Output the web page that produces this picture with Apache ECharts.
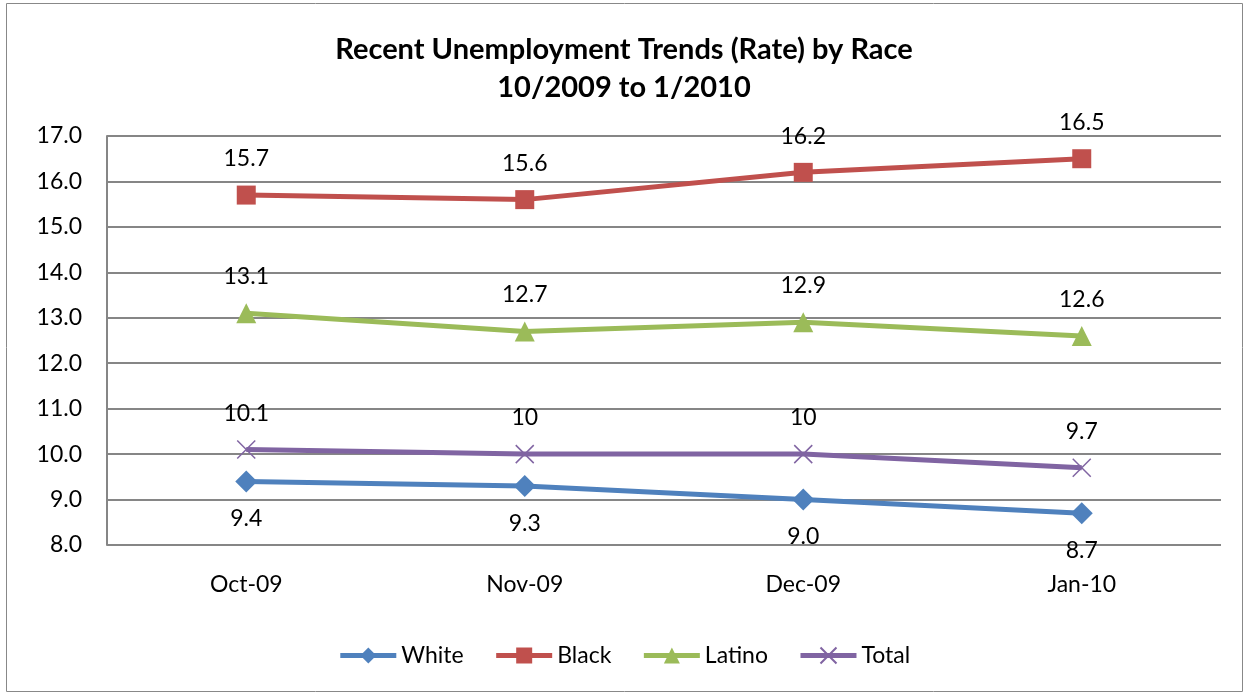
<!DOCTYPE html>
<html><head><meta charset="utf-8">
<script src="https://cdn.jsdelivr.net/npm/echarts@6/dist/echarts.min.js"></script>
<style>html,body{margin:0;padding:0;background:#fff}#c{width:1248px;height:694px}</style>
</head><body><div id="c"></div>
<script>
var categories = ['Oct-09', 'Nov-09', 'Dec-09', 'Jan-10'];
var white = [9.4, 9.3, 9.0, 8.7];
var black = [15.7, 15.6, 16.2, 16.5];
var latino = [13.1, 12.7, 12.9, 12.6];
var total = [10.1, 10, 10, 9.7];
var titleLines = ['Recent Unemployment Trends (Rate) by Race', '10/2009 to 1/2010'];

var FONT = 'Lato';
var FS = 23;
var chart = echarts.init(document.getElementById('c'));
function lbl(pos, fmt) {
  return { show: true, position: pos, distance: 15, color: '#000', fontFamily: FONT, fontSize: FS, formatter: fmt };
}
var crossPath = 'path://M0,0L10,10M10,0L0,10';
chart.setOption({
  animation: false,
  title: {
    text: titleLines.join('\n'), left: 'center', top: 26,
    textStyle: { fontFamily: FONT, fontWeight: 'bold', fontSize: 29, color: '#000', lineHeight: 38 }
  },
  graphic: [{ type: 'rect', shape: { x: 6.5, y: 3.5, width: 1236, height: 688 }, style: { fill: 'none', stroke: '#888', lineWidth: 1 }, silent: true }],
  legend: {
    bottom: 22, left: 'center', itemWidth: 56, itemHeight: 20, itemGap: 30,
    textStyle: { fontFamily: FONT, fontSize: FS, color: '#000' },
    lineStyle: { width: 5 },
    data: ['White', 'Black', 'Latino', 'Total']
  },
  grid: { left: 107, right: 27, top: 136, bottom: 149, containLabel: false },
  xAxis: {
    type: 'category', data: categories, boundaryGap: true,
    axisLine: { show: false }, axisTick: { show: false },
    axisLabel: { margin: 28, fontFamily: FONT, fontSize: FS, color: '#000' }
  },
  yAxis: {
    type: 'value', min: 8, max: 17, interval: 1,
    axisLine: { show: true, lineStyle: { color: '#868686', width: 2 } }, axisTick: { show: false },
    splitLine: { lineStyle: { color: '#868686', width: 2 } },
    axisLabel: { margin: 25, fontFamily: FONT, fontSize: FS, color: '#000', formatter: function (v) { return v.toFixed(1); } }
  },
  series: [
    { name: 'White', type: 'line', data: white, symbol: 'diamond', symbolSize: 22,
      lineStyle: { color: '#4F81BD', width: 5 }, itemStyle: { color: '#4F81BD' },
      label: lbl('bottom', function (p) { return p.value.toFixed(1); }) },
    { name: 'Black', type: 'line', data: black, symbol: 'rect', symbolSize: 19,
      lineStyle: { color: '#C0504D', width: 5 }, itemStyle: { color: '#C0504D' },
      label: lbl('top', function (p) { return String(p.value); }) },
    { name: 'Latino', type: 'line', data: latino, symbol: 'triangle', symbolSize: 20,
      lineStyle: { color: '#9BBB59', width: 5 }, itemStyle: { color: '#9BBB59' },
      label: lbl('top', function (p) { return String(p.value); }) },
    { name: 'Total', type: 'line', data: total, symbol: crossPath, symbolSize: 18,
      lineStyle: { color: '#8064A2', width: 5 }, itemStyle: { color: '#8064A2', borderColor: '#8064A2', borderWidth: 1.5 },
      label: lbl('top', function (p) { return String(p.value); }) }
  ]
});
</script></body></html>
